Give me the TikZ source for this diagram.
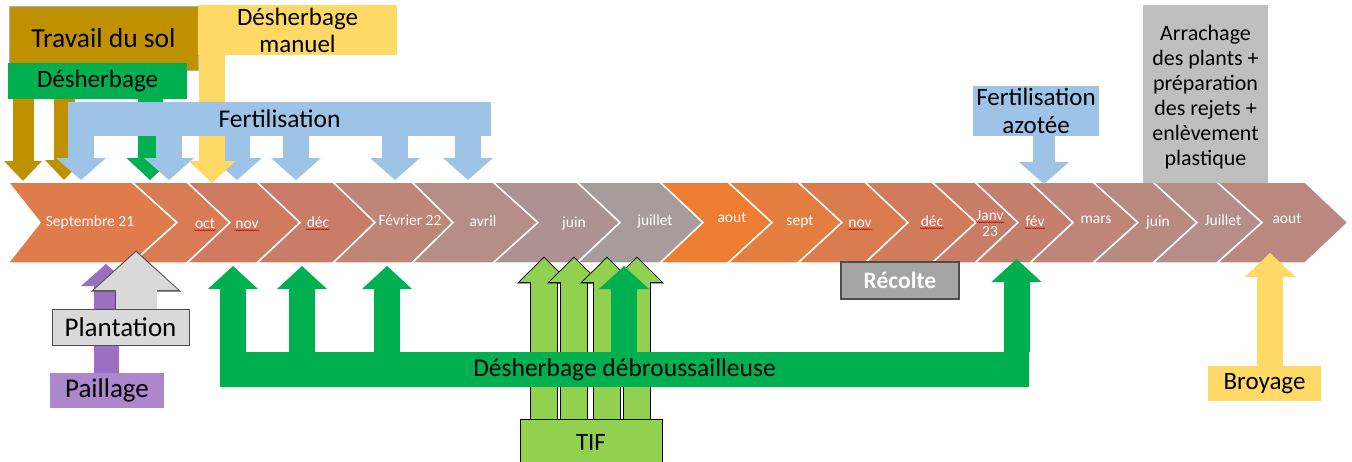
\documentclass[tikz,border=0pt]{standalone}
\usepackage{fontspec}
\setmainfont{Carlito}
\usetikzlibrary{arrows.meta,decorations.pathmorphing}

\pgfdeclarelayer{back}
\pgfdeclarelayer{front}
\pgfsetlayers{back,main,front}

\definecolor{gold}{HTML}{BF9000}
\definecolor{weedgreen}{HTML}{00B050}
\definecolor{fertblue}{HTML}{9DC3E6}
\definecolor{handyellow}{HTML}{FFD966}
\definecolor{plantgrey}{HTML}{D9D9D9}
\definecolor{liftgrey}{HTML}{BFBFBF}
\definecolor{harvgrey}{HTML}{A5A5A5}
\definecolor{edgegrey}{HTML}{4D4D4D}
\definecolor{mulchbox}{HTML}{AC87CB}
\definecolor{mulcharrow}{HTML}{9B70C2}
\definecolor{tifgreen}{HTML}{92D050}
% month chevrons, from september 21 to august
\definecolor{ch1}{HTML}{E07B4B}
\definecolor{ch2}{HTML}{D97B55}
\definecolor{ch3}{HTML}{D07B5F}
\definecolor{ch4}{HTML}{C97D69}
\definecolor{ch5}{HTML}{BF8577}
\definecolor{ch6}{HTML}{B48E87}
\definecolor{ch7}{HTML}{AC9391}
\definecolor{ch8}{HTML}{A89B9B}
\definecolor{ch9}{HTML}{ED7D31}
\definecolor{ch10}{HTML}{E47D40}
\definecolor{ch11}{HTML}{DA7B50}
\definecolor{ch12}{HTML}{D17B5D}
\definecolor{ch13}{HTML}{CA7D66}
\definecolor{ch14}{HTML}{C4806D}
\definecolor{ch15}{HTML}{BE8578}
\definecolor{ch16}{HTML}{B88A80}
\definecolor{ch17}{HTML}{B48E87}
\definecolor{ch18}{HTML}{BA887E}

\tikzset{
  task/.style={inner sep=0pt, align=center, font=\fontsize{25}{27}\selectfont},
  month/.style={text=white, inner sep=0.5pt, anchor=base, font=\fontsize{15.5}{16}\selectfont},
  squiggle/.style={draw=red!80!black, line width=0.5pt, decorate,
    decoration={snake, amplitude=0.55pt, segment length=2.2pt}},
  spell/.style={month, append after command={
    ([yshift=-1.5pt]\tikzlastnode.south west) edge[squiggle] ([yshift=-1.5pt]\tikzlastnode.south east)}},
  chevron/.style={draw=white, line width=1.5pt},
  blockarrow/.style n args={4}{draw=#1, line width=#2,
    -{Triangle[width=#3, length=#4, line width=0pt]}},
  tifarrow/.style={draw=tifgreen, line width=26pt,
    -{Triangle[width=49pt, length=24pt, line width=0pt]},
    preaction={draw=black, line width=27.6pt, shorten >=-1.3pt,
      -{Triangle[width=54pt, length=26.6pt, line width=0pt]}}},
  plantarrow/.style={draw=plantgrey, line width=41pt,
    -{Triangle[width=84pt, length=38pt, line width=0pt]},
    preaction={draw=edgegrey, line width=42.6pt, shorten >=-1.5pt,
      -{Triangle[width=90pt, length=41pt, line width=0pt]}}},
}

\begin{document}
\begin{tikzpicture}[x=1pt, y=-1pt]
  \useasboundingbox (0,0) rectangle (1352,461);
  % Chevrons of the months
  \foreach \la/\lt/\ra/\rt/\col in {
    8/40/132/177/ch1, 132/177/187/230/ch2, 187/230/257/300/ch3, 257/300/333/375/ch4,
    333/375/412/453/ch5, 412/453/493/538/ch6, 493/538/577/620/ch7, 577/620/660/703/ch8,
    660/703/728/772/ch9, 728/772/798/842/ch10, 798/842/865/908/ch11, 865/908/932/976/ch12,
    932/976/975/1018/ch13, 975/1018/1030/1073/ch14, 1030/1073/1093/1138/ch15,
    1093/1138/1153/1197/ch16, 1153/1197/1217/1262/ch17, 1217/1262/1305/1348/ch18}
    \filldraw[chevron, fill=\col] (\la,182) -- (\ra,182) -- (\rt,222.5) -- (\ra,263)
      -- (\la,263) -- (\lt,222.5) -- cycle;
  % Month labels
  \foreach \lab/\x/\y [count=\i] in {Septembre 21/90/226, Février 22/410/225, avril/483/226,
    juin/574/227, juillet/655/225, aout/732/222, sept/800/225, 23/990/236,
    mars/1096/223, juin/1158/226, Juillet/1223/225, aout/1287/223}
    \node[month] (m\i) at (\x,\y) {\lab};
  % Labels underlined by the spell checker
  \foreach \lab/\x/\y [count=\i] in {oct/205/228, nov/247/228, déc/318/227,
    nov/860/227, déc/932/226, Janv/990/220, fév/1035/226}
    \node[spell] (s\i) at (\x,\y) {\lab};

  % Travail du sol
  \node[task, fill=gold, draw=gray!60, line width=0.4pt, minimum width=189pt,
    minimum height=64pt, font=\fontsize{27.5}{28}\selectfont] (trav) at (103.5,38) {Travail du sol};
  \coordinate (g1) at (23,181);
  \coordinate (g2) at (64,180);
  \foreach \c in {g1,g2}
    \draw[blockarrow={gold}{21pt}{38pt}{20pt}] (trav.south -| \c) -- (\c);
  % Desherbage
  \node[task, fill=weedgreen, minimum width=179pt, minimum height=36pt] (desh) at (97.5,81) {Désherbage};
  \coordinate (d1) at (150,180);
  \draw[blockarrow={weedgreen}{25pt}{47pt}{22pt}] (desh.south -| d1) -- (d1);
  % Fertilisation (bar on top, the yellow shaft passes under it)
  \begin{pgfonlayer}{front}
    \node[task, fill=fertblue, minimum width=423pt, minimum height=34pt,
      font=\fontsize{25.5}{27}\selectfont] (fert) at (279.5,119) {Fertilisation};
  \end{pgfonlayer}
  \foreach \x [count=\i] in {81,169,237,296,395,468} {
    \coordinate (f\i) at (\x,180);
    \draw[blockarrow={fertblue}{26pt}{50pt}{22pt}] (fert.south -| f\i) -- (f\i);
  }
  % Desherbage manuel
  \node[task, fill=handyellow, minimum width=199pt, minimum height=50pt] (man) at (297.5,30) {Désherbage\\manuel};
  \coordinate (y1) at (212,183);
  \draw[blockarrow={handyellow}{26pt}{47pt}{22pt}] (man.south -| y1) -- (y1);
  % Fertilisation azotee
  \node[task, fill=fertblue, minimum width=126pt, minimum height=50pt,
    font=\fontsize{25}{28}\selectfont] (azot) at (1036,111) {Fertilisation\\azotée};
  \coordinate (n1) at (1044,184);
  \draw[blockarrow={fertblue}{22pt}{50pt}{22pt}] (azot.south -| n1) -- (n1);
  % Arrachage
  \node[task, fill=liftgrey, minimum width=125pt, minimum height=178pt,
    font=\fontsize{22}{25}\selectfont] (arra) at (1205.5,94) {};
  \node[task, font=\fontsize{22}{25}\selectfont] (arratext) at (1205.5,97)
    {Arrachage\\des plants +\\préparation\\des rejets +\\enlèvement\\plastique};

  % Paillage and plantation
  \node[task, fill=mulchbox, minimum width=114pt, minimum height=35pt,
    font=\fontsize{27}{28}\selectfont] (paill) at (107,390.5) {Paillage};
  \node[task, fill=plantgrey, draw=edgegrey, line width=1pt, minimum width=137pt,
    minimum height=36pt, font=\fontsize{27}{28}\selectfont] (plant) at (120.5,327) {Plantation};
  \coordinate (p1) at (106,264);
  \coordinate (p2) at (136,252);
  \begin{pgfonlayer}{back}
    \draw[blockarrow={mulcharrow}{25pt}{50pt}{22pt}] (paill.north -| p1) -- (p1);
  \end{pgfonlayer}
  \draw[plantarrow] (plant.north -| p2) -- (p2);
  % TIF
  \node[task, fill=tifgreen, draw=black, line width=0.8pt, minimum width=142pt,
    minimum height=50pt] (tif) at (591,444) {\raisebox{4pt}{TIF}};
  \foreach \x [count=\i] in {544,574,607,637} {
    \coordinate (t\i) at (\x,258);
    \draw[tifarrow] (tif.north -| t\i) -- (t\i);
  }
  % Desherbage debroussailleuse
  \node[task, fill=weedgreen, minimum width=809pt, minimum height=35pt,
    font=\fontsize{25.5}{27}\selectfont] (debr) at (624.5,369.5) {Désherbage débroussailleuse};
  \foreach \x/\y [count=\i] in {233/266, 302/266, 387/266, 624/266, 1016.5/259} {
    \coordinate (a\i) at (\x,\y);
    \draw[blockarrow={weedgreen}{26pt}{50pt}{23pt}] (debr.north -| a\i) -- (a\i);
  }
  % Recolte
  \node[task, fill=harvgrey, draw=edgegrey, line width=1.2pt, text=white, minimum width=118pt,
    minimum height=37pt, font=\bfseries\fontsize{23.5}{26}\selectfont] (reco) at (900,280.5) {Récolte};
  % Broyage
  \node[task, fill=handyellow, minimum width=113pt, minimum height=35pt] (broy) at (1264.5,383.5) {Broyage};
  \coordinate (r1) at (1270,253);
  \draw[blockarrow={handyellow}{26pt}{51pt}{24pt}] (broy.north -| r1) -- (r1);
\end{tikzpicture}
\end{document}
